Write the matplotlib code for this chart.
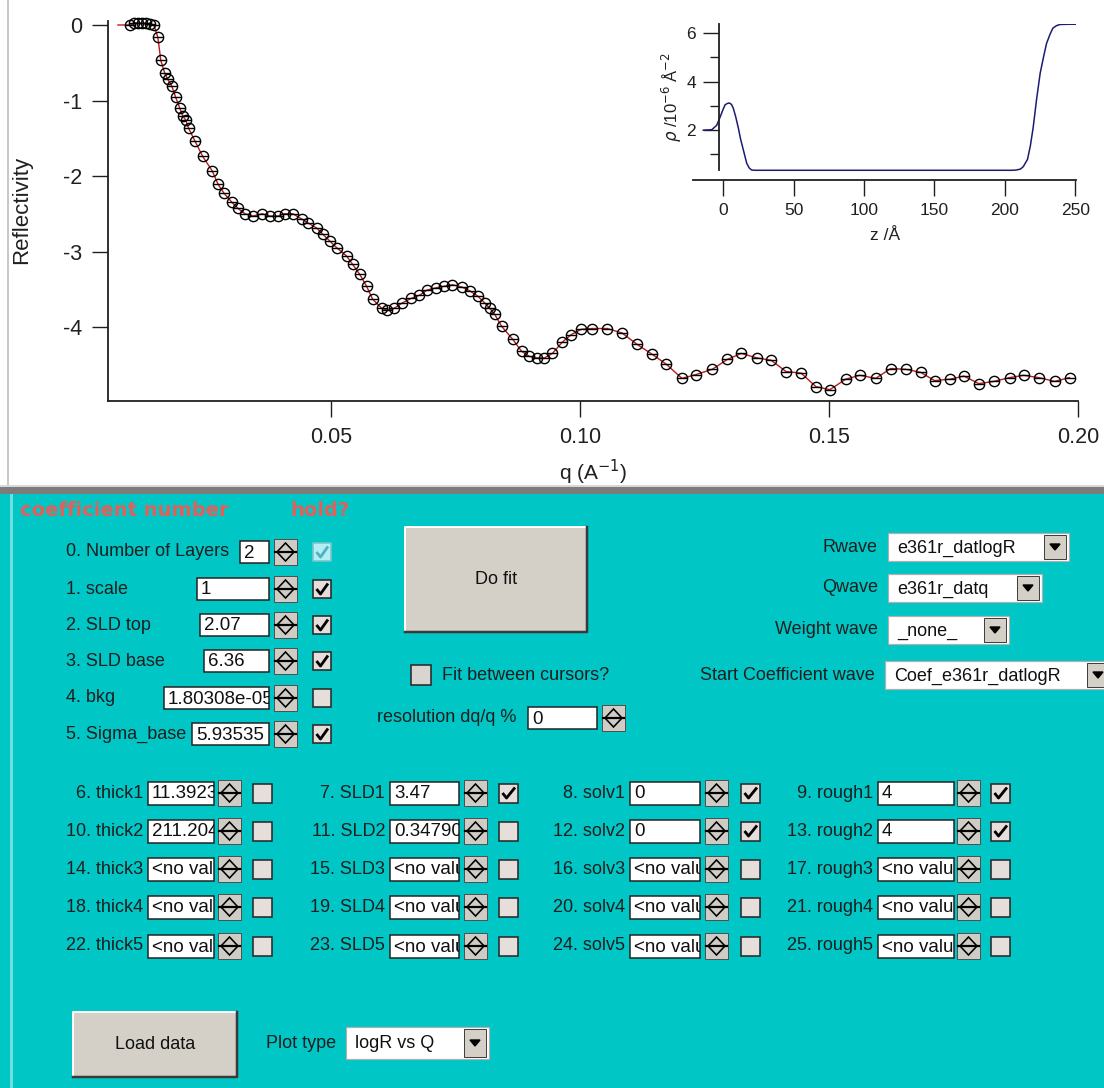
import numpy as np
import matplotlib.pyplot as plt
from matplotlib.patches import Rectangle, Polygon

plt.rcParams['font.family'] = ['Liberation Sans', 'DejaVu Sans']

W, H = 1104, 1088

# ### reflectivity data, log10(R) against q ###
q = [0.0097, 0.0105, 0.0113, 0.0121, 0.0129, 0.0137, 0.0145,
     0.0153, 0.0159, 0.0167, 0.0173, 0.0181, 0.0189, 0.0197, 0.0203, 0.0209, 0.0215,
     0.0227, 0.0243, 0.0262, 0.0274, 0.0286, 0.0302, 0.0314, 0.0328, 0.0344, 0.0362,
     0.0378, 0.0394, 0.0408, 0.0424, 0.0442, 0.0454, 0.0472, 0.0484, 0.0498, 0.0512,
     0.0532, 0.0544, 0.0558, 0.0572, 0.0584, 0.0602, 0.0614, 0.0628, 0.0644, 0.0662,
     0.0678, 0.0694, 0.0712, 0.0728, 0.0744, 0.0763, 0.0779, 0.0795, 0.0809, 0.0819,
     0.0829, 0.0843, 0.0865, 0.0883, 0.0899, 0.0915, 0.0929, 0.0945, 0.0965, 0.0983,
     0.1003, 0.1025, 0.1055, 0.1085, 0.1115, 0.1145, 0.1173, 0.1205, 0.1233, 0.1266,
     0.1296, 0.1324, 0.1356, 0.1384, 0.1414, 0.1444, 0.1474, 0.1502, 0.1534, 0.1562,
     0.1594, 0.1624, 0.1654, 0.1684, 0.1712, 0.1744, 0.1771, 0.1801, 0.1831, 0.1863,
     0.1891, 0.1921, 0.1953, 0.1983]
logR = [0.0, 0.02, 0.03, 0.02, 0.02, 0.01, 0.0,
        -0.16, -0.47, -0.64, -0.72, -0.81, -0.96, -1.10, -1.20, -1.26, -1.37,
        -1.53, -1.74, -1.93, -2.11, -2.23, -2.35, -2.43, -2.50, -2.53, -2.50,
        -2.53, -2.53, -2.50, -2.50, -2.57, -2.62, -2.69, -2.77, -2.86, -2.95,
        -3.06, -3.17, -3.30, -3.46, -3.63, -3.75, -3.78, -3.75, -3.68, -3.62,
        -3.58, -3.51, -3.48, -3.46, -3.44, -3.47, -3.52, -3.59, -3.68, -3.75,
        -3.83, -3.99, -4.16, -4.32, -4.39, -4.41, -4.41, -4.35, -4.20, -4.10,
        -4.03, -4.02, -4.02, -4.08, -4.23, -4.36, -4.49, -4.68, -4.63, -4.56,
        -4.43, -4.35, -4.41, -4.44, -4.59, -4.61, -4.79, -4.83, -4.69, -4.64,
        -4.68, -4.55, -4.56, -4.60, -4.71, -4.69, -4.65, -4.75, -4.72, -4.67,
        -4.64, -4.67, -4.72, -4.67]
# fit curve starts a little below the first data point
fit_q = [0.0073] + q
fit_logR = [0.0] + logR

# ### SLD profile for the inset ###
z = [-14, -8, -4.5, -2, 0, 1.4, 3, 4.5, 6, 7.3, 9, 10.9, 12.5, 14.4, 16.8, 18.5,
     20.3, 23, 50, 100, 150, 200, 205, 208, 211, 213, 216, 218, 220, 222.5, 225,
     227.5, 229.5, 232, 234, 236.5, 239, 245, 250]
rho = [2.0, 2.02, 2.2, 2.55, 2.85, 3.04, 3.1, 3.12, 3.06, 2.9, 2.55, 2.08, 1.62,
       1.19, 0.64, 0.45, 0.36, 0.35, 0.35, 0.35, 0.35, 0.35, 0.35, 0.36, 0.4, 0.5,
       0.8, 1.35, 2.1, 3.3, 4.35, 5.05, 5.57, 5.95, 6.2, 6.3, 6.35, 6.36, 6.36]

q_ticks = [0.05, 0.10, 0.15, 0.20]
q_ticklabels = ['0.05', '0.10', '0.15', '0.20']
r_ticks = [0, -1, -2, -3, -4]
z_ticks = [0, 50, 100, 150, 200, 250]
rho_ticks = [2, 4, 6]

# ### panel contents ###
coef_labels = ['0. Number of Layers', '1. scale', '2. SLD top', '3. SLD base',
               '4. bkg', '5. Sigma_base']
coef_values = ['2', '1', '2.07', '6.36', '1.80308e-05', '5.93535']
coef_hold = [True, True, True, True, False, True]

layer_names = ['thick', 'SLD', 'solv', 'rough']
layer_values = [['11.3923', '3.47', '0', '4'],
                ['211.204', '0.347905', '0', '4'],
                ['<no value>'] * 4,
                ['<no value>'] * 4,
                ['<no value>'] * 4]
layer_hold = [[False, True, True, True],
              [False, False, True, True],
              [False] * 4, [False] * 4, [False] * 4]

popup_labels = ['Rwave', 'Qwave', 'Weight wave', 'Start Coefficient wave']
popup_values = ['e361r_datlogR', 'e361r_datq', '_none_', 'Coef_e361r_datlogR']

CYAN = '#00C6C6'
GREY = '#D4D0C8'
INK = '#1E1E1E'
PX = 0.72  # one pixel in points

fig = plt.figure(figsize=(W / 100, H / 100), dpi=100)
fig.patch.set_facecolor('white')

ui = fig.add_axes([0, 0, 1, 1], zorder=0)
ui.set_xlim(0, W)
ui.set_ylim(H, 0)
ui.axis('off')


def rect(x0, y0, x1, y1, fc, ec='none', lw=0, z=1):
	r = Rectangle((x0, y0), x1 - x0, y1 - y0, facecolor=fc, edgecolor=ec,
	              linewidth=lw * PX, zorder=z)
	ui.add_patch(r)
	return r


def label(x, y, s, ha='left', size=13, **kw):
	ui.text(x, y, s, ha=ha, va='center', fontsize=size, color=kw.pop('color', INK), **kw)


def field(x0, x1, yc, s, h=22):
	r = rect(x0, yc - h / 2, x1, yc + h / 2, 'white', '#202020', 1.5, z=2)
	t = ui.text(x0 + 4, yc + 1, s, ha='left', va='center', fontsize=13.5, color='#101010',
	            zorder=3, clip_on=True)
	t.set_clip_path(r)


def spinner(x0, yc):
	rect(x0, yc - 13, x0 + 23, yc + 13, '#CFCBC5', '#505050', 1, z=2)
	ui.add_patch(Polygon([(x0 + 3, yc), (x0 + 11.5, yc - 9), (x0 + 20, yc), (x0 + 11.5, yc + 9)],
	                     closed=True, fill=False, edgecolor='black', linewidth=1.6 * PX, zorder=3))
	ui.plot([x0 + 1, x0 + 22], [yc, yc], color='black', lw=2.2 * PX, zorder=3)


def checkbox(x0, yc, checked, fc='#E6DEDA', ec='#2A2A2A', cc='black', s=18):
	rect(x0, yc - s / 2, x0 + s, yc + s / 2, fc, ec, 1.6, z=2)
	if checked:
		ui.plot([x0 + 3.5, x0 + 7.5, x0 + s - 3], [yc, yc + 5, yc - 5.5], color=cc,
		        lw=2.8 * PX, zorder=3, solid_capstyle='butt')


def popup(x0, x1, yc, s, h=28):
	rect(x0, yc - h / 2, x1, yc + h / 2, 'white', '#B0B0B0', 1.2, z=2)
	ui.text(x0 + 9, yc + 1, s, ha='left', va='center', fontsize=13, color='#101010', zorder=3)
	rect(x1 - 25, yc - h / 2 + 2, x1 - 3, yc + h / 2 - 2, GREY, '#404040', 1, z=3)
	ui.add_patch(Polygon([(x1 - 19, yc - 3), (x1 - 9, yc - 3), (x1 - 14, yc + 3)],
	                     closed=True, color='black', zorder=4))


def button(x0, y0, x1, y1, s):
	rect(x0, y0, x1, y1, GREY, z=2)
	ui.plot([x0, x0, x1], [y1, y0, y0], color='white', lw=2 * PX, zorder=3)
	ui.plot([x0, x1, x1], [y1, y1, y0], color='#3A3A3A', lw=2.5 * PX, zorder=3)
	ui.text((x0 + x1) / 2, (y0 + y1) / 2, s, ha='center', va='center', fontsize=13,
	        color='#101010', zorder=4)


# backgrounds: white graph area on top, cyan control panel below
rect(0, 0, W, 487, 'white', z=0)
rect(7, 0, 9, 487, '#C8C8C8', z=0)
rect(0, 486, W, 494, '#7C7C7C', z=1)
rect(0, 485, W, 487, '#D8D8D8', z=1)
rect(0, 494, W, H, CYAN, z=0)
rect(10, 494, 13, H, '#6EDEDE', z=1)

# panel header
ui.text(20, 510, 'coefficient number', ha='left', va='center', fontsize=14,
        fontweight='bold', color='#E2605A', family=['DejaVu Sans'])
ui.text(290, 510, 'hold?', ha='left', va='center', fontsize=14,
        fontweight='bold', color='#E2605A', family=['DejaVu Sans'])

# coefficients 0..5
rows_y = [552, 589, 625, 661, 698, 734]
box_left = [240, 197, 200, 204, 164, 192]
for i, yc in enumerate(rows_y):
	label(66, yc, coef_labels[i])
	field(box_left[i], 269, yc, coef_values[i])
	spinner(274, yc)
	if i == 0:
		checkbox(313, yc, True, fc='#B4EEF2', ec='#78C4CC', cc='#48B4C4')
	else:
		checkbox(313, yc, coef_hold[i])

# fit controls in the middle
button(405, 527, 587, 632, 'Do fit')
checkbox(411, 675, False, fc='#D8D4D0', s=20)
label(442, 675, 'Fit between cursors?')
label(377, 718, 'resolution dq/q %')
field(528, 597, 718, '0')
spinner(602, 718)

# wave pickers on the right
popup_y = [547, 588, 630, 675]
popup_x = [(888, 1069), (888, 1042), (888, 1009), (885, 1112)]
for i, yc in enumerate(popup_y):
	label(popup_x[i][0] - 10, yc, popup_labels[i], ha='right')
	popup(popup_x[i][0], popup_x[i][1], yc, popup_values[i])

# layer parameters, 4 columns x 5 layers
grid_y = [793, 831, 869, 907, 946]
cols = [(148, 214, 218, 253), (390, 459, 464, 499), (630, 700, 705, 741), (878, 954, 957, 991)]
for r, yc in enumerate(grid_y):
	for c, (bx0, bx1, sx, cx) in enumerate(cols):
		num = 6 + 4 * r + c
		label(bx0 - 5, yc, f'{num}. {layer_names[c]}{r + 1}', ha='right')
		field(bx0, bx1, yc, layer_values[r][c], h=23)
		spinner(sx, yc)
		checkbox(cx, yc, layer_hold[r][c], s=19)

button(73, 1012, 237, 1077, 'Load data')
label(266, 1043, 'Plot type')
popup(346, 489, 1043, 'logR vs Q', h=32)

# ### main reflectivity graph ###
ax = fig.add_axes([108 / W, 1 - 401 / H, (1078 - 108) / W, (401 - 21) / H], zorder=2)
ax.set_facecolor('none')
ax.plot(fit_q, fit_logR, color='#C01818', lw=1.0, zorder=2)
ax.plot(q, logR, 'o', mfc='none', mec='black', ms=7.4, mew=1.0, clip_on=False, zorder=3)
ax.plot(q, logR, '_', color='black', ms=7.4, mew=1.0, clip_on=False, zorder=3)
ax.set_xlim(0.0053, 0.2)
ax.set_ylim(-4.98, 0.053)
ax.set_xticks(q_ticks)
ax.set_xticklabels(q_ticklabels)
ax.set_yticks(r_ticks)
ax.set_yticklabels([str(t) for t in r_ticks])
for s in ['top', 'right']:
	ax.spines[s].set_visible(False)
for s in ['left', 'bottom']:
	ax.spines[s].set_linewidth(1.3)
	ax.spines[s].set_color('#202020')
ax.tick_params(direction='out', length=11.5, width=1.0, colors='#202020',
               labelsize=15.5, pad=7)
fig.text(22 / W, 1 - 210 / H, 'Reflectivity', rotation=90, ha='center', va='center',
         fontsize=16, color='#202020')
fig.text(593 / W, 1 - 472 / H, 'q (A$^{-1}$)', ha='center', va='center',
         fontsize=15, color='#202020')

# ### inset SLD profile ###
ins = fig.add_axes([693 / W, 1 - 180 / H, (1076 - 693) / W, (180 - 24) / H], zorder=3)
ins.set_facecolor('none')
ins.plot(z, rho, color='#1C1C70', lw=1.1)
ins.set_xlim(-21.3, 250.4)
ins.set_ylim(-0.05, 6.37)
ins.set_xticks(z_ticks)
ins.set_yticks(rho_ticks)
ins.set_yticks([1, 3, 5], minor=True)
for s in ['top', 'right']:
	ins.spines[s].set_visible(False)
ins.spines['left'].set_position(('data', -3))
ins.spines['left'].set_bounds(0.35, 6.37)
for s in ['left', 'bottom']:
	ins.spines[s].set_linewidth(1.3)
	ins.spines[s].set_color('#202020')
ins.tick_params(which='major', direction='out', length=11.5, width=1.0, colors='#202020',
                labelsize=12.5, pad=5)
ins.tick_params(which='minor', direction='out', length=6.5, width=1.0, colors='#202020')
fig.text(672 / W, 1 - 97 / H, r'$\rho$ /10$^{-6}$ Å$^{-2}$', rotation=90, ha='center',
         va='center', fontsize=12, color='#202020')
fig.text(885 / W, 1 - 236 / H, 'z /Å', ha='center', va='center', fontsize=12.5,
         color='#202020')

fig.savefig('out.png', dpi=100)
